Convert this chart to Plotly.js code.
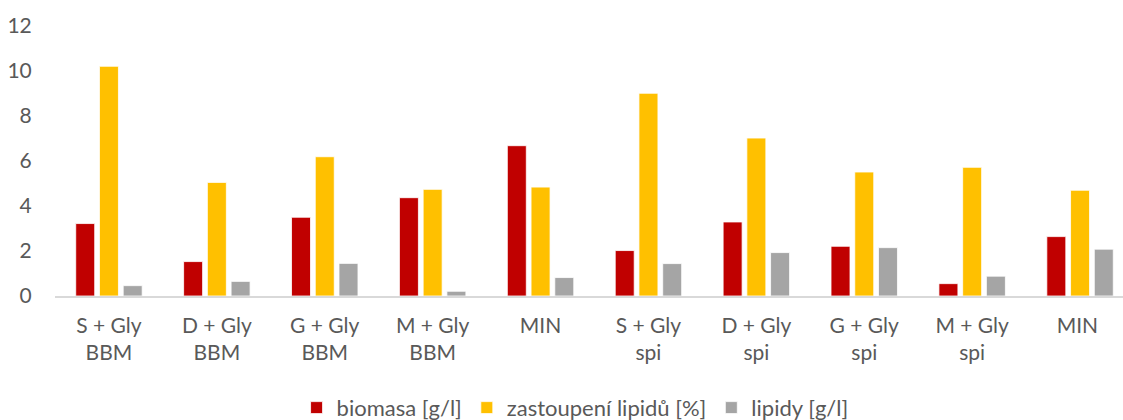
<!DOCTYPE html>
<html>
<head>
<meta charset="utf-8">
<script src="https://cdn.plot.ly/plotly-3.0.1.min.js"></script>
<style>
html,body{margin:0;padding:0;overflow:hidden;background:#fff;}
#chart{width:1135px;height:420px;}
</style>
</head>
<body>
<div id="chart"></div>
<script>
const categories = ["S + Gly<br>BBM","D + Gly<br>BBM","G + Gly<br>BBM","M + Gly<br>BBM","MIN",
                    "S + Gly<br>spi","D + Gly<br>spi","G + Gly<br>spi","M + Gly<br>spi","MIN "];
const biomasa = [3.22,1.53,3.50,4.37,6.68,2.02,3.29,2.21,0.55,2.64];
const zastoupeni = [10.21,5.05,6.19,4.74,4.84,9.01,7.02,5.51,5.72,4.70];
const lipidy = [0.46,0.65,1.45,0.21,0.82,1.44,1.93,2.15,0.88,2.08];
const seriesNames = ["biomasa [g/l]","zastoupení lipidů [%]","lipidy [g/l]"];
const yTicks = [0,2,4,6,8,10,12];

const colors = ["#C00000","#FFC000","#A5A5A5"];
const font = "Lato, 'Open Sans', sans-serif";
const data = [biomasa, zastoupeni, lipidy].map((vals,i)=>({
  type:"bar", x:categories, y:vals, name:seriesNames[i],
  marker:{color:colors[i], line:{color:"#ffffff", width:0.8}},
  hoverinfo:"skip"
}));
const layout = {
  width:1135, height:420,
  margin:{l:55, r:1, t:26, b:124, autoexpand:false},
  paper_bgcolor:"#fff", plot_bgcolor:"#fff",
  font:{family:font, size:21, color:"#595959"},
  barmode:"group", bargap:0.34, bargroupgap:0.2,
  xaxis:{showline:true, linecolor:"#D9D9D9", linewidth:1.5, showgrid:false, zeroline:false,
         ticks:"outside", ticklen:10, tickcolor:"rgba(0,0,0,0)", tickangle:0, automargin:false,
         tickfont:{family:font, size:21, color:"#595959"}},
  yaxis:{range:[0,12], tickvals:yTicks, showgrid:false, zeroline:false, showline:false,
         ticks:"outside", ticklen:18, tickcolor:"rgba(0,0,0,0)", automargin:false,
         tickfont:{family:font, size:21, color:"#595959"}},
  showlegend:true,
  legend:{orientation:"h", x:0.482, xanchor:"center", yref:"container", y:0.029, yanchor:"middle",
          font:{family:font, size:22, color:"#595959"}, itemwidth:30, traceorder:"normal"}
};
Plotly.newPlot("chart", data, layout, {displayModeBar:false, staticPlot:true});
</script>
</body>
</html>
